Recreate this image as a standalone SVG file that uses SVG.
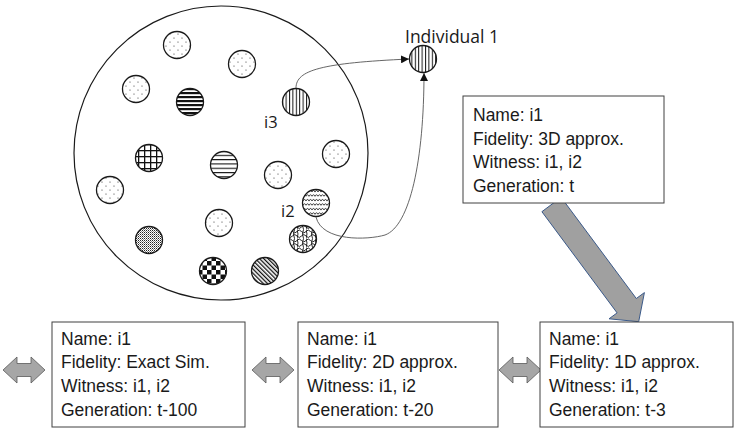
<svg xmlns="http://www.w3.org/2000/svg" width="735" height="430" viewBox="0 0 735 430">
<style>
.big{fill:#fff;stroke:#1a1a1a;stroke-width:1.2}
.ind{stroke:#1a1a1a;stroke-width:1.3}
.lbl{font-family:"Open Sans","DejaVu Sans",sans-serif;font-size:16.5px;fill:#1a1a1a}
.box{fill:#fff;stroke:#404040;stroke-width:1}
.bt{font-family:"Liberation Sans",Arial,sans-serif;font-size:17.5px;fill:#1a1a1a}
.conn{fill:none;stroke:#555;stroke-width:0.9}
.dbl{fill:#a6a6a6;stroke:#595959;stroke-width:0.8}
.blk{fill:#a0a0a0;stroke:#3b5a8a;stroke-width:1}
</style>
<defs>
<pattern id="pDots" width="8" height="8" patternUnits="userSpaceOnUse"><rect width="8" height="8" fill="#fff"/><circle cx="2" cy="2" r="0.6" fill="#333"/><circle cx="6" cy="6" r="0.6" fill="#333"/></pattern>
<pattern id="pV" width="3.4" height="4" patternUnits="userSpaceOnUse"><rect width="3.4" height="4" fill="#fff"/><rect x="0" width="1" height="4" fill="#111"/></pattern>
<pattern id="pHThick" width="4" height="4" patternUnits="userSpaceOnUse"><rect width="4" height="4" fill="#fff"/><rect y="0" width="4" height="2.2" fill="#111"/></pattern>
<pattern id="pHThin" width="4" height="4.3" patternUnits="userSpaceOnUse"><rect width="4" height="4.3" fill="#fff"/><rect y="0" width="4" height="1.1" fill="#111"/></pattern>
<pattern id="pGrid" width="6" height="6" patternUnits="userSpaceOnUse"><rect width="6" height="6" fill="#fff"/><rect width="6" height="1.3" fill="#111"/><rect width="1.3" height="6" fill="#111"/></pattern>
<pattern id="pFine" width="2" height="2" patternUnits="userSpaceOnUse"><rect width="2" height="2" fill="#fff"/><rect width="1" height="1" fill="#222"/><rect x="1" y="1" width="1" height="1" fill="#888"/></pattern>
<pattern id="pCheck" width="9" height="9" patternUnits="userSpaceOnUse"><rect width="9" height="9" fill="#fff"/><rect width="4.5" height="4.5" fill="#111"/><rect x="4.5" y="4.5" width="4.5" height="4.5" fill="#111"/></pattern>
<pattern id="pDiag" width="3" height="6" patternUnits="userSpaceOnUse" patternTransform="rotate(-45)"><rect width="3" height="6" fill="#fff"/><rect width="1.3" height="6" fill="#111"/></pattern>
<pattern id="pWave" width="6" height="4.5" patternUnits="userSpaceOnUse"><rect width="6" height="4.5" fill="#fff"/><path d="M0,2.8 L1.5,1.2 L3,2.8 L4.5,1.2 L6,2.8" fill="none" stroke="#111" stroke-width="0.9"/></pattern>
<pattern id="pWeave" width="9" height="9" patternUnits="userSpaceOnUse"><rect width="9" height="9" fill="#fff"/><path d="M0,2 Q2.25,5 4.5,2 T9,2 M0,6.5 Q2.25,3.5 4.5,6.5 T9,6.5 M1,0 Q-1,4.5 1,9 M5.5,0 Q7.5,4.5 5.5,9" fill="none" stroke="#111" stroke-width="0.9"/></pattern>
<marker id="ah" viewBox="0 0 10 10" refX="10" refY="5" markerWidth="8" markerHeight="8" markerUnits="userSpaceOnUse" orient="auto"><path d="M0,0 L10,5 L0,10 z" fill="#111"/></marker>
</defs>
<rect width="735" height="430" fill="#fff"/>

<g id="population">
<circle class="big" cx="221" cy="153" r="147"/>
</g>
<g id="individuals">
<circle class="ind" cx="177" cy="45" r="13.5" fill="url(#pDots)"/>
<circle class="ind" cx="242" cy="64" r="13.5" fill="url(#pDots)"/>
<circle class="ind" cx="136" cy="89" r="13.5" fill="url(#pDots)"/>
<circle class="ind" cx="190" cy="102" r="13.5" fill="url(#pHThick)"/>
<circle class="ind" id="i3" cx="296" cy="102" r="13.5" fill="url(#pV)"/>
<circle class="ind" cx="149" cy="158" r="13.5" fill="url(#pGrid)"/>
<circle class="ind" cx="224" cy="165" r="13.5" fill="url(#pHThin)"/>
<circle class="ind" cx="336" cy="154" r="13.5" fill="url(#pDots)"/>
<circle class="ind" cx="278" cy="175" r="13.5" fill="url(#pDots)"/>
<circle class="ind" cx="110" cy="190" r="13.5" fill="url(#pDots)"/>
<circle class="ind" id="i2" cx="316" cy="203" r="13.5" fill="url(#pWave)"/>
<circle class="ind" cx="219" cy="223" r="13.5" fill="url(#pDots)"/>
<circle class="ind" cx="149" cy="240" r="13.5" fill="url(#pFine)"/>
<circle class="ind" cx="303" cy="239" r="13.5" fill="url(#pWeave)"/>
<circle class="ind" cx="213" cy="271" r="13.5" fill="url(#pCheck)"/>
<circle class="ind" cx="265" cy="271" r="13.5" fill="url(#pDiag)"/>
<text class="lbl" x="264" y="128">i3</text>
<text class="lbl" x="281" y="217">i2</text>
</g>

<g id="individual1">
<circle class="ind" cx="423" cy="59" r="13.5" fill="url(#pV)"/>
<text class="lbl" x="405" y="43" style="font-size:17.5px">Individual 1</text>
</g>

<g id="connectors">
<path class="conn" d="M296,88 C296,70 322,63 409,59" marker-end="url(#ah)"/>
<path class="conn" d="M316,217 C322,242 368,240 385,235 C410,226 424,160 424,73" marker-end="url(#ah)"/>
<path class="blk" d="M541.9,211.7 L561.1,197.3 L636.3,298.5 L644.4,292.6 L638.7,321.7 L609,318.8 L617.1,312.9 Z"/>
<path class="dbl" d="M3,370 L17,357 L17,363.5 L31,363.5 L31,357 L45,370 L31,383 L31,376.5 L17,376.5 L17,383 Z"/>
<path class="dbl" d="M252,370 L266,357 L266,363.5 L280,363.5 L280,357 L294,370 L280,383 L280,376.5 L266,376.5 L266,383 Z"/>
<path class="dbl" d="M499,370 L513,357 L513,363.5 L527,363.5 L527,357 L541,370 L527,383 L527,376.5 L513,376.5 L513,383 Z"/>
</g>

<g id="box-t">
<rect class="box" x="463" y="96" width="201" height="107"/>
<text class="bt" x="473" y="121">Name: i1</text>
<text class="bt" x="473" y="145">Fidelity: 3D approx.</text>
<text class="bt" x="473" y="168">Witness: i1, i2</text>
<text class="bt" x="473" y="192">Generation: t</text>
</g>

<g id="box-t100">
<rect class="box" x="52" y="322" width="193" height="105"/>
<text class="bt" x="61" y="345">Name: i1</text>
<text class="bt" x="61" y="368">Fidelity: Exact Sim.</text>
<text class="bt" x="61" y="392">Witness: i1, i2</text>
<text class="bt" x="61" y="416">Generation: t-100</text>
</g>

<g id="box-t20">
<rect class="box" x="298" y="322" width="200" height="105"/>
<text class="bt" x="307" y="345">Name: i1</text>
<text class="bt" x="307" y="368">Fidelity: 2D approx.</text>
<text class="bt" x="307" y="392">Witness: i1, i2</text>
<text class="bt" x="307" y="416">Generation: t-20</text>
</g>

<g id="box-t3">
<rect class="box" x="540" y="322" width="193" height="105"/>
<text class="bt" x="549" y="345">Name: i1</text>
<text class="bt" x="549" y="368">Fidelity: 1D approx.</text>
<text class="bt" x="549" y="392">Witness: i1, i2</text>
<text class="bt" x="549" y="416">Generation: t-3</text>
</g>
</svg>
